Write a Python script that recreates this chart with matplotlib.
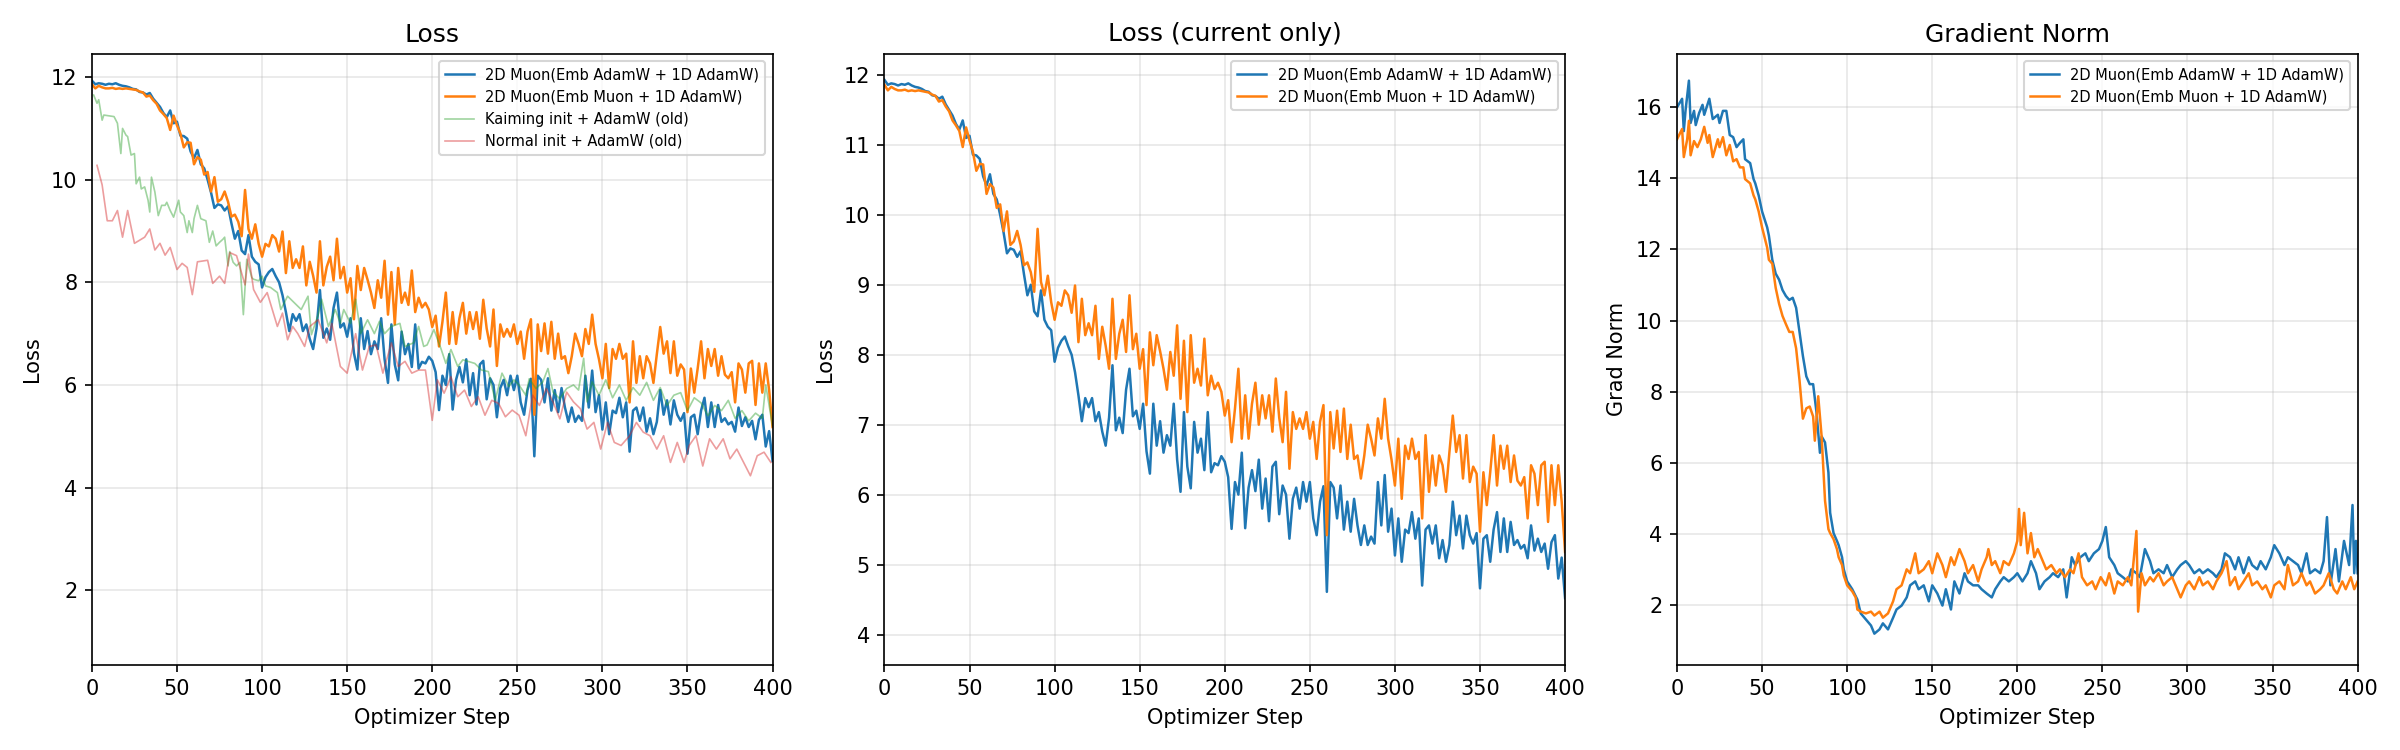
import numpy as np
import matplotlib
matplotlib.use("Agg")
import matplotlib.pyplot as plt

# loss values every 2 optimizer steps (0..400)
loss_steps = np.arange(0, 401, 2)

loss_emb_adamw = [
    11.93, 11.86, 11.88, 11.87, 11.85, 11.87, 11.86, 11.88, 11.85, 11.83,
    11.82, 11.80, 11.77, 11.76, 11.71, 11.70, 11.66, 11.69, 11.58, 11.50,
    11.42, 11.30, 11.22, 11.35, 11.10, 11.13, 10.86, 10.85, 10.80, 10.55,
    10.42, 10.58, 10.30, 10.22, 10.00, 9.75, 9.45, 9.52, 9.50, 9.40,
    9.48, 9.15, 8.85, 9.00, 8.62, 8.55, 8.92, 8.50, 8.40, 8.35,
    7.90, 8.10, 8.20, 8.26, 8.12, 8.00, 7.75, 7.42, 7.05, 7.38,
    7.25, 7.38, 7.05, 7.18, 6.90, 6.70, 7.10, 7.85, 6.92, 7.10,
    6.88, 7.50, 7.80, 7.12, 7.20, 6.94, 7.30, 6.62, 6.30, 7.30,
    6.70, 7.05, 6.60, 6.85, 6.70, 7.30, 6.50, 6.04, 7.18, 6.40,
    6.09, 7.04, 6.60, 6.80, 6.35, 7.18, 6.32, 6.45, 6.42, 6.55,
    6.47, 6.25, 5.51, 6.18, 6.00, 6.60, 5.52, 6.10, 6.35, 6.05,
    6.50, 5.80, 6.23, 5.62, 6.40, 6.47, 5.72, 6.13, 6.00, 5.37,
    5.94, 6.10, 5.80, 6.18, 5.90, 6.18, 5.66, 5.42, 5.90, 6.12,
    4.61, 6.18, 6.10, 5.66, 6.13, 5.50, 5.90, 5.47, 5.94, 5.56,
    5.28, 5.56, 5.28, 5.40, 5.30, 6.18, 5.56, 6.28, 5.47, 5.80,
    5.13, 5.66, 5.04, 5.50, 5.45, 5.75, 5.37, 5.66, 4.70, 5.50,
    5.56, 5.30, 5.56, 5.09, 5.35, 5.04, 5.28, 5.90, 5.42, 5.70,
    5.23, 5.70, 5.42, 5.30, 5.45, 4.66, 5.37, 5.42, 5.04, 5.50,
    5.75, 5.18, 5.66, 5.18, 5.61, 5.28, 5.35, 5.23, 5.28, 5.09,
    5.56, 5.20, 5.37, 5.18, 5.30, 4.94, 5.32, 5.42, 4.80, 5.10,
    4.52,
]

loss_emb_muon = [
    11.86, 11.78, 11.83, 11.80, 11.78, 11.78, 11.79, 11.77, 11.78, 11.77,
    11.78, 11.77, 11.76, 11.75, 11.72, 11.70, 11.62, 11.64, 11.55, 11.48,
    11.35, 11.28, 11.20, 10.97, 11.25, 11.06, 10.90, 10.63, 10.73, 10.72,
    10.30, 10.44, 10.39, 10.10, 10.15, 9.77, 10.05, 9.57, 9.62, 9.77,
    9.57, 9.28, 9.32, 9.18, 8.90, 9.80, 9.04, 8.85, 9.13, 8.75,
    8.50, 8.75, 8.70, 8.92, 8.85, 8.60, 8.99, 8.18, 8.80, 8.28,
    8.45, 8.28, 8.70, 7.94, 8.40, 8.13, 7.80, 8.80, 7.94, 8.30,
    8.50, 8.04, 8.85, 8.08, 8.30, 7.80, 8.08, 7.28, 8.32, 7.85,
    8.28, 8.05, 7.80, 7.50, 8.04, 7.70, 8.42, 7.37, 8.20, 7.18,
    8.28, 7.60, 7.80, 7.56, 8.23, 7.42, 7.70, 7.51, 7.60, 7.47,
    7.13, 7.35, 6.75, 7.23, 7.80, 6.80, 7.42, 6.80, 7.30, 7.60,
    7.00, 7.42, 7.09, 7.42, 6.90, 7.66, 7.10, 6.75, 7.47, 6.37,
    7.18, 6.94, 7.09, 6.94, 7.18, 6.80, 7.04, 6.51, 7.04, 7.28,
    5.42, 7.18, 6.66, 7.20, 6.61, 7.23, 6.51, 7.00, 6.51, 6.56,
    6.23, 6.56, 7.00, 6.80, 6.56, 7.09, 6.80, 7.37, 6.80, 6.50,
    6.13, 6.80, 5.94, 6.70, 6.51, 6.80, 6.51, 6.61, 5.66, 6.85,
    6.04, 6.56, 6.13, 6.56, 6.42, 6.04, 6.60, 7.13, 6.61, 6.85,
    6.23, 6.85, 6.18, 6.40, 6.30, 5.47, 6.32, 5.85, 6.32, 6.85,
    6.13, 6.70, 6.37, 6.70, 6.18, 6.56, 6.20, 6.13, 6.25, 5.66,
    6.42, 6.30, 5.85, 6.42, 6.47, 5.61, 6.42, 5.85, 6.42, 5.90,
    5.18,
]

# older runs, logged at irregular steps
kaiming_steps = [
    1, 3, 4, 6, 7, 13, 15, 17, 18, 20, 21, 23, 25, 26, 28, 29, 31, 33, 34, 35,
    37, 39, 41, 43, 44, 46, 48, 51, 52, 54, 56, 57, 59, 60, 62, 64, 67, 69, 71, 73,
    75, 77, 78, 80, 81, 83, 85, 87, 89, 91, 94, 95, 98, 100, 102, 105, 109, 111, 115, 119,
    123, 127, 129, 133, 135, 139, 143, 146, 148, 152, 155, 158, 162, 166, 169, 172, 176, 181, 184, 189,
    192, 195, 197, 201, 205, 208, 211, 215, 218, 221, 225, 229, 233, 237, 241, 245, 248, 251, 255, 257,
    261, 265, 268, 271, 275, 279, 283, 286, 289, 291, 294, 298, 302, 306, 310, 314, 318, 322, 326, 330,
    334, 338, 342, 346, 350, 354, 358, 362, 366, 370, 374, 378, 382, 386, 390, 394, 396, 400,
]
kaiming_loss = [
    11.65, 11.49, 11.56, 11.16, 11.26, 11.23, 11.10, 10.51, 11.00, 10.87,
    10.84, 10.48, 10.51, 9.92, 10.05, 9.82, 9.86, 9.60, 9.37, 10.05,
    9.76, 9.30, 9.50, 9.50, 9.56, 9.40, 9.27, 9.60, 9.37, 9.30,
    8.97, 9.20, 8.97, 9.24, 9.50, 9.24, 9.20, 8.78, 9.00, 8.71,
    8.78, 8.84, 8.88, 8.32, 8.60, 8.39, 8.32, 8.39, 7.37, 8.45,
    8.09, 8.06, 8.03, 8.12, 7.93, 7.90, 7.80, 7.47, 7.73, 7.60,
    7.47, 7.73, 6.98, 7.37, 7.67, 7.14, 7.47, 7.20, 7.47, 7.20,
    7.67, 7.00, 7.27, 7.00, 7.24, 7.00, 7.14, 7.20, 6.75, 6.82,
    7.14, 6.75, 6.78, 7.08, 6.72, 6.42, 6.69, 6.36, 6.49, 6.46,
    6.42, 6.29, 6.26, 5.70, 6.23, 5.97, 6.10, 6.00, 5.80, 6.12,
    5.93, 6.06, 6.32, 5.86, 5.73, 5.93, 6.00, 5.90, 6.52, 5.67,
    6.06, 5.80, 6.10, 5.75, 6.00, 5.70, 5.95, 5.80, 6.05, 5.70,
    5.95, 5.60, 5.80, 5.85, 5.50, 5.75, 5.65, 5.40, 5.60, 5.50,
    5.70, 5.35, 5.50, 5.30, 5.45, 5.35, 6.00, 5.20,
]

normal_steps = [
    3, 6, 9, 12, 15, 18, 21, 25, 31, 34, 37, 40, 43, 46, 50, 53, 56, 59, 62, 68,
    71, 75, 78, 81, 85, 90, 92, 95, 99, 103, 109, 112, 115, 118, 121, 125, 128, 133, 138, 141,
    146, 150, 155, 159, 163, 167, 171, 176, 180, 184, 188, 192, 196, 200, 203, 207, 211, 215, 219, 223,
    227, 231, 235, 239, 243, 247, 251, 255, 259, 263, 267, 271, 275, 279, 283, 287, 291, 295, 299, 303,
    307, 311, 316, 320, 324, 328, 332, 336, 340, 344, 348, 351, 355, 359, 363, 367, 371, 375, 379, 383,
    387, 391, 395, 399,
]
normal_loss = [
    10.28, 9.90, 9.20, 9.20, 9.40, 8.88, 9.40, 8.76, 8.88, 9.04,
    8.63, 8.76, 8.53, 8.68, 8.25, 8.37, 8.29, 7.76, 8.40, 8.43,
    7.98, 8.12, 7.98, 8.58, 8.52, 7.95, 8.55, 7.86, 7.61, 7.80,
    7.14, 7.40, 6.88, 7.14, 7.00, 6.75, 7.14, 7.27, 6.82, 7.20,
    6.36, 6.23, 7.00, 6.29, 6.75, 6.78, 6.23, 6.82, 6.36, 6.46,
    6.23, 6.29, 6.29, 5.31, 6.10, 5.84, 6.16, 5.77, 5.90, 5.58,
    5.77, 5.41, 5.70, 5.64, 5.38, 5.51, 5.41, 5.01, 5.80, 5.60,
    5.93, 5.67, 5.34, 5.86, 5.67, 5.54, 5.14, 5.27, 4.75, 5.27,
    4.88, 4.82, 5.01, 5.27, 5.08, 5.01, 4.75, 5.01, 4.49, 4.88,
    4.49, 4.82, 5.01, 4.42, 4.95, 4.75, 4.95, 4.56, 4.75, 4.49,
    4.23, 4.62, 4.69, 4.49,
]

# gradient norm
gn_steps_adamw = [
    0, 3, 4, 5, 7, 8, 10, 11, 13, 15, 16, 19, 21, 24, 25, 27, 29, 31, 33, 35,
    37, 39, 40, 43, 45, 46, 48, 50, 53, 54, 56, 58, 60, 62, 64, 66, 68, 70, 72, 74,
    76, 78, 80, 82, 84, 85, 87, 89, 90, 92, 94, 95, 97, 98, 100, 103, 106, 108, 111, 114,
    116, 119, 121, 124, 127, 129, 132, 135, 137, 140, 142, 145, 148, 150, 153, 156, 158, 161, 163, 166,
    169, 171, 174, 177, 179, 182, 185, 187, 190, 192, 195, 198, 200, 203, 206, 208, 211, 213, 216, 219,
    221, 224, 227, 229, 232, 234, 237, 240, 242, 245, 248, 250, 252, 254, 257, 259, 262, 265, 267, 270,
    272, 275, 278, 280, 283, 286, 288, 291, 294, 296, 299, 301, 304, 307, 309, 312, 315, 317, 320, 322,
    325, 328, 330, 333, 336, 338, 341, 343, 346, 349, 351, 354, 357, 359, 362, 365, 367, 370, 372, 375,
    378, 380, 382, 384, 387, 389, 392, 395, 397, 398, 399, 400,
]
gn_emb_adamw = [
    16.00, 16.24, 15.33, 15.90, 16.75, 15.56, 15.90, 15.50, 15.84, 16.07,
    15.79, 16.24, 15.67, 15.79, 15.56, 15.90, 15.90, 15.22, 15.16, 14.88,
    15.00, 15.10, 14.54, 14.43, 13.98, 13.86, 13.52, 13.07, 12.62, 12.39,
    11.71, 11.32, 11.15, 10.86, 10.69, 10.58, 10.64, 10.36, 9.68, 9.00,
    8.43, 8.21, 8.21, 7.41, 6.28, 6.74, 6.57, 5.72, 4.59, 4.02,
    3.80, 3.68, 3.34, 3.00, 2.66, 2.44, 2.15, 1.76, 1.59, 1.42,
    1.19, 1.31, 1.48, 1.31, 1.64, 1.87, 1.98, 2.21, 2.55, 2.66,
    2.44, 2.55, 2.10, 2.55, 2.32, 1.98, 2.44, 1.87, 2.66, 2.32,
    2.89, 2.66, 2.55, 2.55, 2.44, 2.32, 2.21, 2.44, 2.66, 2.78,
    2.66, 2.78, 2.89, 2.66, 2.89, 3.23, 2.89, 2.44, 2.66, 2.78,
    2.89, 2.78, 3.00, 2.21, 3.34, 3.12, 3.34, 3.45, 3.23, 3.45,
    3.57, 3.80, 4.19, 3.34, 3.12, 2.89, 2.78, 2.66, 3.00, 2.89,
    2.78, 3.57, 3.23, 2.89, 3.00, 2.89, 3.12, 2.78, 3.00, 3.12,
    3.23, 3.12, 2.89, 3.00, 2.89, 3.00, 2.89, 2.78, 3.00, 3.45,
    3.34, 3.00, 3.34, 2.89, 3.34, 3.12, 3.00, 3.23, 3.00, 3.34,
    3.68, 3.45, 3.12, 3.34, 3.23, 3.12, 2.89, 3.45, 2.89, 3.00,
    2.89, 3.23, 4.47, 2.55, 3.57, 2.66, 3.80, 3.12, 4.81, 2.89,
    3.80, 2.89,
]

gn_steps_muon = [
    0, 3, 4, 6, 7, 8, 10, 12, 14, 16, 18, 19, 21, 24, 25, 27, 29, 31, 33, 35,
    37, 39, 40, 43, 45, 46, 48, 50, 53, 54, 56, 58, 60, 62, 64, 66, 68, 70, 72, 74,
    76, 78, 80, 81, 83, 85, 86, 87, 89, 90, 92, 94, 95, 97, 98, 100, 103, 105, 106, 108,
    111, 114, 116, 119, 121, 124, 127, 129, 132, 135, 137, 140, 142, 145, 148, 150, 153, 156, 158, 161,
    163, 166, 169, 171, 174, 177, 179, 182, 183, 185, 187, 190, 192, 195, 198, 200, 201, 202, 204, 206,
    208, 210, 212, 215, 217, 220, 223, 225, 228, 231, 233, 236, 238, 241, 244, 246, 249, 252, 254, 257,
    259, 262, 265, 267, 270, 271, 273, 275, 278, 280, 283, 286, 288, 291, 294, 296, 299, 301, 304, 307,
    309, 312, 315, 317, 320, 323, 325, 328, 330, 333, 336, 338, 341, 344, 346, 349, 351, 354, 357, 359,
    362, 365, 367, 370, 372, 375, 378, 380, 383, 386, 388, 391, 393, 396, 398, 400,
]
gn_emb_muon = [
    15.10, 15.39, 14.60, 15.10, 15.62, 14.65, 15.05, 14.88, 15.10, 15.45,
    15.00, 15.22, 14.60, 15.10, 14.88, 15.16, 14.65, 14.94, 14.48, 14.54,
    14.31, 14.31, 13.98, 13.86, 13.52, 13.41, 13.07, 12.62, 12.05, 11.71,
    11.60, 10.92, 10.47, 10.13, 9.90, 9.68, 9.68, 9.22, 8.32, 7.24,
    7.53, 7.58, 7.30, 6.62, 7.87, 6.74, 5.83, 4.93, 4.13, 4.02,
    3.85, 3.57, 3.34, 3.12, 2.83, 2.55, 2.38, 2.21, 1.87, 1.81,
    1.76, 1.81, 1.70, 1.81, 1.64, 1.76, 2.10, 2.44, 2.55, 3.00,
    2.89, 3.45, 2.89, 3.00, 3.23, 2.89, 3.45, 3.12, 2.78, 3.34,
    3.12, 3.57, 3.23, 2.89, 3.12, 2.66, 3.00, 3.34, 3.57, 3.12,
    3.23, 2.89, 3.23, 3.12, 3.45, 3.80, 4.70, 3.68, 4.59, 3.45,
    4.02, 3.34, 3.57, 3.23, 3.00, 3.12, 2.89, 3.00, 2.78, 3.00,
    2.89, 3.45, 2.78, 2.55, 2.66, 2.44, 2.78, 2.55, 2.89, 2.32,
    2.66, 2.55, 2.78, 2.55, 4.08, 1.81, 2.89, 2.55, 2.78, 2.66,
    2.89, 2.55, 2.66, 2.78, 2.44, 2.21, 2.55, 2.66, 2.44, 2.78,
    2.55, 2.66, 2.44, 2.66, 2.89, 3.23, 2.55, 2.78, 2.44, 2.66,
    2.89, 2.55, 2.66, 2.44, 2.55, 2.21, 2.55, 2.66, 2.44, 3.12,
    2.55, 2.66, 2.89, 2.55, 2.66, 2.32, 2.44, 2.55, 2.89, 2.44,
    2.32, 2.66, 2.44, 2.78, 2.44, 2.66,
]

label_adamw = "2D Muon(Emb AdamW + 1D AdamW)"
label_muon = "2D Muon(Emb Muon + 1D AdamW)"
label_kaiming = "Kaiming init + AdamW (old)"
label_normal = "Normal init + AdamW (old)"

c_blue = "#1f77b4"
c_orange = "#ff7f0e"

fig, axes = plt.subplots(1, 3, figsize=(16, 5), dpi=150)

ax = axes[0]
ax.plot(loss_steps, loss_emb_adamw, color=c_blue, lw=1.2, label=label_adamw)
ax.plot(loss_steps, loss_emb_muon, color=c_orange, lw=1.2, label=label_muon)
ax.plot(kaiming_steps, kaiming_loss, color="#2ca02c", lw=0.8, alpha=0.45, label=label_kaiming)
ax.plot(normal_steps, normal_loss, color="#d62728", lw=0.8, alpha=0.45, label=label_normal)
ax.set_title("Loss")
ax.set_ylabel("Loss")
ax.set_ylim(0.55, 12.45)

ax = axes[1]
ax.plot(loss_steps, loss_emb_adamw, color=c_blue, lw=1.2, label=label_adamw)
ax.plot(loss_steps, loss_emb_muon, color=c_orange, lw=1.2, label=label_muon)
ax.set_title("Loss (current only)")
ax.set_ylabel("Loss")
ax.set_ylim(3.57, 12.3)

ax = axes[2]
ax.plot(gn_steps_adamw, gn_emb_adamw, color=c_blue, lw=1.2, label=label_adamw)
ax.plot(gn_steps_muon, gn_emb_muon, color=c_orange, lw=1.2, label=label_muon)
ax.set_title("Gradient Norm")
ax.set_ylabel("Grad Norm")
ax.set_ylim(0.32, 17.5)

for ax in axes:
    ax.set_xlabel("Optimizer Step")
    ax.set_xlim(0, 400)
    ax.grid(True, alpha=0.3)
    ax.legend(loc="upper right", fontsize=7)

plt.tight_layout()
plt.savefig("out.png", dpi=150)
